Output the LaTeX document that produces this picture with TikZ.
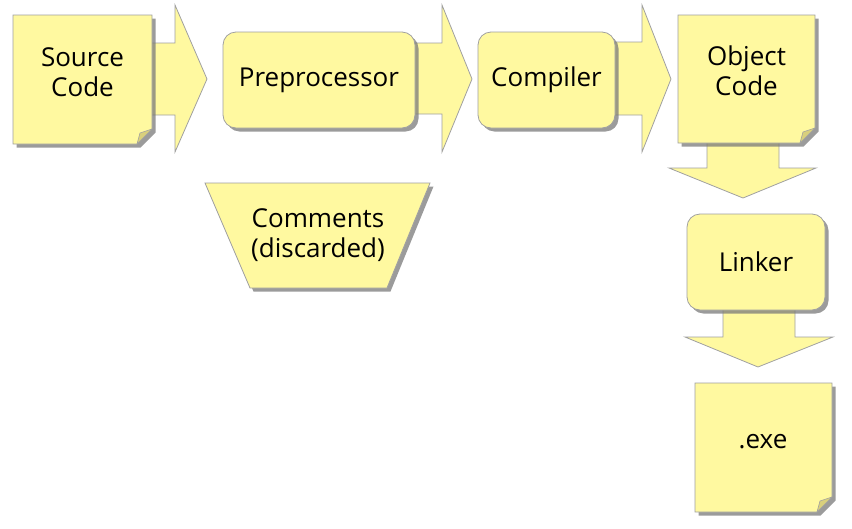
\documentclass[tikz,border=0pt]{standalone}
\usepackage{fontspec}
\setmainfont{Open Sans}
\usetikzlibrary{shadows}
\definecolor{pad}{HTML}{FFF9A0}
\definecolor{edge}{HTML}{A0A0A0}
\definecolor{foldc}{HTML}{D9D07C}
\definecolor{shade}{HTML}{7A7A7A}
\tikzset{
  blockarrow/.style={fill=pad, draw=edge, line width=0.8pt, line join=miter},
  sh/.style={drop shadow={shadow xshift=3.5pt, shadow yshift=-3.5pt, fill=shade, opacity=0.75}},
  notebody/.style={fill=pad, draw=edge, line width=0.8pt, sh},
  foldpart/.style={fill=foldc, draw=edge, line width=0.6pt},
  procbox/.style={fill=pad, draw=edge, line width=0.8pt, rounded corners=13pt, sh,
    font=\fontsize{26}{30}\selectfont, align=center, inner sep=0pt},
  lbl/.style={font=\fontsize{26}{30}\selectfont, align=center, inner sep=0pt, text=black}
}
\newcommand{\drawnote}[4]{% x1 y1 x2 y2
  \path[notebody] (#1,#2) -- (#3,#2) -- (#3,#4-15) -- (#3-15,#4) -- (#1,#4) -- cycle;
  \path[foldpart] (#3,#4-15) .. controls (#3-6,#4-13) .. (#3-12,#4-11) .. controls (#3-13,#4-6) .. (#3-15,#4) -- cycle;
}
\begin{document}
\begin{tikzpicture}[x=1pt,y=-1pt]
\useasboundingbox (0,0) rectangle (852,528);
% block arrows (behind the boxes)
\path[blockarrow] (148,43) -- (175,43) -- (175,5) -- (207,79) -- (175,152) -- (175,115) -- (148,115) -- cycle;
\path[blockarrow] (410,43) -- (442,43) -- (442,5) -- (472,79) -- (442,152) -- (442,114) -- (410,114) -- cycle;
\path[blockarrow] (610,42) -- (642,42) -- (642,5) -- (671,79) -- (642,152) -- (642,115) -- (610,115) -- cycle;
\path[blockarrow] (707,138) -- (707,168) -- (669,168) -- (743,198) -- (816,168) -- (779,168) -- (779,138) -- cycle;
\path[blockarrow] (723,305) -- (723,337) -- (685,337) -- (758,367) -- (833,337) -- (795,337) -- (795,305) -- cycle;
% notes
\drawnote{13}{15}{152}{144}
\node[lbl] (src) at (82.5,72) {Source\\Code};
\drawnote{678}{15}{815}{143}
\node[lbl] (obj) at (746.5,71) {Object\\Code};
\drawnote{695}{383}{832}{512}
\node[lbl] (exe) at (763,442) {.exe};
% process boxes
\node[procbox, minimum width=192pt, minimum height=96pt] (pre) at (319,80) {Preprocessor};
\node[procbox, minimum width=137pt, minimum height=96pt] (comp) at (546.5,80) {Compiler};
\node[procbox, minimum width=138pt, minimum height=96pt] (link) at (756,262) {Linker};
% discarded comments
\path[fill=pad, draw=edge, line width=0.8pt, sh] (205,183) -- (430,183) -- (387,288) -- (250,288) -- cycle;
\node[lbl] (com) at (318,235) {Comments\\(discarded)};
\end{tikzpicture}
\end{document}
